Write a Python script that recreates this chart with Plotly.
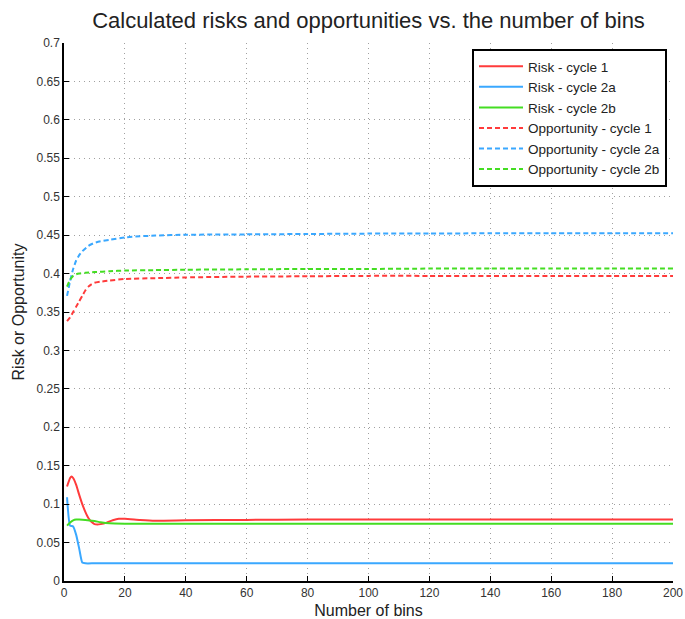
import plotly.graph_objects as go

# ---- data ----
risk1_x = [1, 2, 2.5, 3, 4, 5, 6, 7, 8, 9, 10, 11, 12, 14, 16, 18, 20, 25, 30, 40, 60, 80, 100, 120, 140, 160, 180, 200]
risk1_y = [0.123, 0.134, 0.136, 0.134, 0.125, 0.112, 0.100, 0.090, 0.082, 0.077, 0.074, 0.0735, 0.074, 0.076, 0.079, 0.081, 0.081, 0.0795, 0.0785, 0.079, 0.0795, 0.080, 0.080, 0.080, 0.080, 0.080, 0.080, 0.080]

risk2a_x = [1, 2, 3, 4, 5, 6, 7, 10, 20, 40, 60, 80, 100, 120, 140, 160, 180, 200]
risk2a_y = [0.109, 0.072, 0.071, 0.060, 0.042, 0.024, 0.023, 0.023, 0.023, 0.023, 0.023, 0.023, 0.023, 0.023, 0.023, 0.023, 0.023, 0.023]

risk2b_x = [1, 2, 3, 4, 5, 7, 10, 12, 15, 20, 30, 40, 60, 80, 100, 120, 140, 160, 180, 200]
risk2b_y = [0.072, 0.076, 0.079, 0.080, 0.080, 0.0795, 0.078, 0.0765, 0.075, 0.0745, 0.0745, 0.0745, 0.0745, 0.0745, 0.0745, 0.0745, 0.0745, 0.0745, 0.0745, 0.0745]

opp1_x = [1, 2, 3, 4, 5, 6, 7, 8, 9, 10, 12, 15, 20, 30, 40, 60, 80, 100, 120, 140, 160, 180, 200]
opp1_y = [0.338, 0.343, 0.350, 0.357, 0.364, 0.371, 0.378, 0.383, 0.386, 0.388, 0.3895, 0.391, 0.393, 0.394, 0.395, 0.396, 0.3965, 0.397, 0.397, 0.397, 0.397, 0.397, 0.397]

opp2a_x = [1, 2, 3, 4, 5, 6, 8, 10, 12, 15, 20, 25, 30, 40, 60, 80, 100, 120, 140, 160, 180, 200]
opp2a_y = [0.371, 0.390, 0.406, 0.417, 0.424, 0.429, 0.436, 0.440, 0.442, 0.444, 0.447, 0.4485, 0.4495, 0.4505, 0.451, 0.4515, 0.452, 0.452, 0.4525, 0.4525, 0.4525, 0.4525]

opp2b_x = [1, 2, 3, 4, 5, 7, 10, 15, 20, 30, 40, 60, 80, 100, 120, 140, 160, 180, 200]
opp2b_y = [0.383, 0.392, 0.397, 0.399, 0.400, 0.401, 0.402, 0.403, 0.404, 0.4045, 0.405, 0.4055, 0.406, 0.406, 0.4065, 0.4065, 0.4065, 0.4065, 0.4065]

series_names = ["Risk - cycle 1", "Risk - cycle 2a", "Risk - cycle 2b",
                "Opportunity - cycle 1", "Opportunity - cycle 2a", "Opportunity - cycle 2b"]

x_ticks = list(range(0, 201, 20))
y_ticks = [round(i * 0.05, 2) for i in range(15)]
y_tick_labels = ["0", "0.05", "0.1", "0.15", "0.2", "0.25", "0.3", "0.35", "0.4", "0.45", "0.5", "0.55", "0.6", "0.65", "0.7"]

RED = "#ff3b3b"
BLUE = "#3aa8ff"
GREEN = "#44dd22"

fig = go.Figure()
data = [
    (risk1_x, risk1_y, RED, "solid"),
    (risk2a_x, risk2a_y, BLUE, "solid"),
    (risk2b_x, risk2b_y, GREEN, "solid"),
    (opp1_x, opp1_y, RED, "5px,3px"),
    (opp2a_x, opp2a_y, BLUE, "5px,3px"),
    (opp2b_x, opp2b_y, GREEN, "5px,3px"),
]
for (xs, ys, c, d), name in zip(data, series_names):
    fig.add_trace(go.Scatter(
        x=xs, y=ys, mode="lines", name=name,
        line=dict(color=c, width=2, dash=d, shape="spline", smoothing=0.5),
    ))

FONT = "Liberation Sans, Arial, sans-serif"
axis_font = dict(family=FONT, size=12, color="#333333")

fig.update_layout(
    width=685, height=619,
    margin=dict(l=64, r=12, t=43, b=38),
    paper_bgcolor="white", plot_bgcolor="white",
    font=dict(family=FONT, color="#222222"),
    title=dict(text="Calculated risks and opportunities vs. the number of bins",
               x=(64 + 673) / 2 / 685, xanchor="center", y=1 - 20 / 619, yanchor="middle",
               font=dict(size=22, color="#222222")),
    showlegend=True,
    legend=dict(
        x=(667 - 64) / 609, y=(581 - 49) / 538, xanchor="right", yanchor="top",
        bordercolor="black", borderwidth=2, bgcolor="white",
        font=dict(size=13.5, color="#222222"),
        tracegroupgap=0, itemwidth=44,
    ),
    xaxis=dict(
        range=[0, 200], tickmode="array", tickvals=x_ticks,
        ticks="inside", ticklen=5, tickcolor="black", tickwidth=1,
        showline=True, linecolor="black", linewidth=1.5, mirror=False,
        showgrid=True, gridcolor="#a0a0a0", griddash="1px,4px", gridwidth=1,
        zeroline=False, tickfont=axis_font, automargin=False,
        title=dict(text="Number of bins", font=dict(size=16, color="#222222"), standoff=6),
    ),
    yaxis=dict(
        range=[0, 0.7], tickmode="array", tickvals=y_ticks, ticktext=y_tick_labels,
        ticks="inside", ticklen=5, tickcolor="black", tickwidth=1,
        showline=True, linecolor="black", linewidth=1.5, mirror=False,
        showgrid=True, gridcolor="#a0a0a0", griddash="1px,4px", gridwidth=1,
        zeroline=False, tickfont=axis_font, automargin=False,
        title=dict(text="Risk or Opportunity", font=dict(size=16, color="#222222"), standoff=8),
    ),
)

fig.write_html("out.html")
